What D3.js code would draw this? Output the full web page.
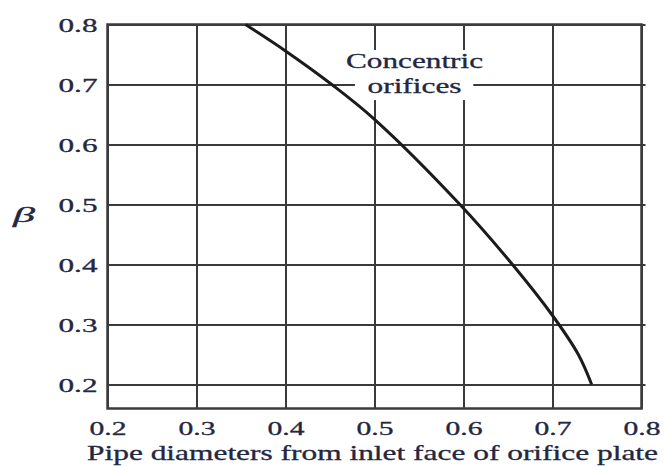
<!DOCTYPE html>
<html>
<head>
<meta charset="utf-8">
<script src="https://cdn.jsdelivr.net/npm/d3@7"></script>
<style>
  html, body { margin: 0; padding: 0; background: #fff; }
  svg { display: block; }
  text { font-family: "Liberation Serif", "Times New Roman", serif; fill: #23273f; stroke: #23273f; stroke-width: 0.3px; }
</style>
</head>
<body>
<svg id="chart" width="665" height="467"></svg>
<script>
// Distance from the orifice plate inlet face (pipe diameters) vs. diameter ratio beta
const pipeDiameters = [0.355, 0.400, 0.452, 0.500, 0.596, 0.655, 0.700, 0.729, 0.744];
const betaValues    = [0.800, 0.756, 0.700, 0.642, 0.500, 0.400, 0.315, 0.250, 0.200];

const xTicks = [0.2, 0.3, 0.4, 0.5, 0.6, 0.7, 0.8];
const yTicks = [0.2, 0.3, 0.4, 0.5, 0.6, 0.7, 0.8];

const xTitle = "Pipe diameters from inlet face of orifice plate";
const yTitle = "\u03B2";
const curveLabel = ["Concentric", "orifices"];

const margin = { left: 107.5, top: 24.5, right: 23.5, bottom: 58.5 };
const W = 665, H = 467;
const innerW = W - margin.left - margin.right;
const innerH = H - margin.top - margin.bottom;

const svg = d3.select("#chart");
const g = svg.append("g").attr("transform", `translate(${margin.left},${margin.top})`);

const x = d3.scaleLinear().domain([0.2, 0.8]).range([0, innerW]);
const y = d3.scaleLinear().domain([0.16, 0.8]).range([innerH, 0]);

const gridColor = "#3a3a3a";
const inkColor = "#23273f";

// vertical grid lines + bottom tick labels
const xAxis = g.append("g")
  .attr("transform", `translate(0,${innerH})`)
  .call(d3.axisBottom(x).tickValues(xTicks).tickSize(-innerH).tickFormat(d3.format(".1f")));
xAxis.select(".domain").remove();
xAxis.selectAll(".tick line").attr("stroke", gridColor).attr("stroke-width", 2);
xAxis.selectAll(".tick text")
  .attr("y", 26).attr("dy", 0)
  .attr("font-size", 18)
  .attr("textLength", 37).attr("lengthAdjust", "spacingAndGlyphs")
  .style("fill", inkColor);

// horizontal grid lines + left tick labels
const yAxis = g.append("g")
  .call(d3.axisLeft(y).tickValues(yTicks).tickSize(-(innerW + 4)).tickPadding(10).tickFormat(d3.format(".1f")));
yAxis.select(".domain").remove();
yAxis.selectAll(".tick line").attr("stroke", gridColor).attr("stroke-width", 2);
yAxis.selectAll(".tick text")
  .attr("dy", 7)
  .attr("font-size", 18)
  .attr("textLength", 39).attr("lengthAdjust", "spacingAndGlyphs")
  .style("fill", inkColor);

// plot frame
g.append("rect")
  .attr("x", 0).attr("y", 0)
  .attr("width", innerW).attr("height", innerH)
  .attr("fill", "none").attr("stroke", "#3c3c3c").attr("stroke-width", 2.5);

// label backdrop that interrupts the grid
const labelBox = { x0: 0.478, x1: 0.611, y0: 0.674, y1: 0.7575 };
g.append("rect")
  .attr("x", x(labelBox.x0)).attr("y", y(labelBox.y1))
  .attr("width", x(labelBox.x1) - x(labelBox.x0))
  .attr("height", y(labelBox.y0) - y(labelBox.y1))
  .attr("fill", "#fff");

// the curve
const pts = pipeDiameters.map((d, i) => [d, betaValues[i]]);
const line = d3.line().x(d => x(d[0])).y(d => y(d[1])).curve(d3.curveCatmullRom.alpha(0.5));
g.append("path")
  .datum(pts)
  .attr("d", line)
  .attr("fill", "none")
  .attr("stroke", "#1b1b1b")
  .attr("stroke-width", 3)
  .attr("stroke-linecap", "butt");

// curve label
const labelX = 0.545;
const labelYs = [0.7275, 0.686];
const labelWidths = [137, 94];
curveLabel.forEach((t, i) => {
  g.append("text")
    .attr("x", x(labelX)).attr("y", y(labelYs[i]))
    .attr("text-anchor", "middle")
    .attr("font-size", 20)
    .attr("textLength", labelWidths[i]).attr("lengthAdjust", "spacingAndGlyphs")
    .text(t);
});

// axis titles
svg.append("text")
  .attr("x", 87).attr("y", 460)
  .attr("font-size", 21)
  .attr("textLength", 571).attr("lengthAdjust", "spacingAndGlyphs")
  .text(xTitle);

svg.append("text")
  .attr("x", 13).attr("y", 222)
  .attr("font-size", 21).attr("font-style", "italic")
  .attr("textLength", 22).attr("lengthAdjust", "spacingAndGlyphs")
  .text(yTitle);
</script>
</body>
</html>
